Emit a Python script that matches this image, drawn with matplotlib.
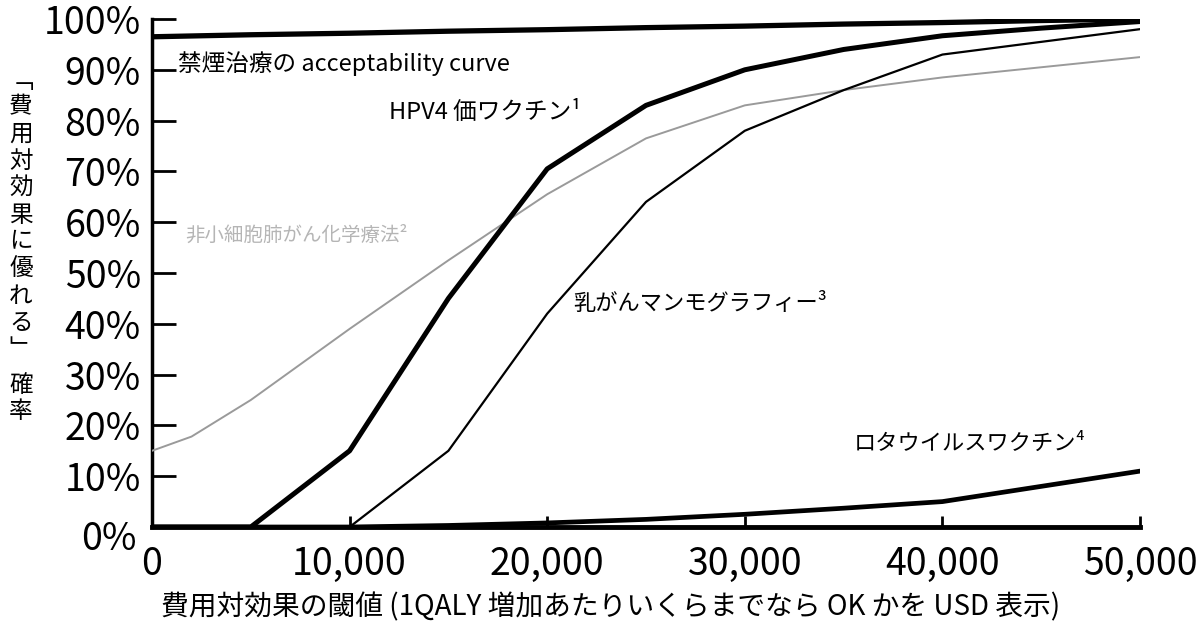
import matplotlib
matplotlib.use("Agg")
import matplotlib.pyplot as plt
from matplotlib.ticker import FuncFormatter
from matplotlib.transforms import ScaledTranslation

plt.rcParams['font.family'] = ['Noto Sans CJK JP', 'DejaVu Sans']

# ---- data ----
thresholds = [0, 5000, 10000, 15000, 20000, 25000, 30000, 35000, 40000, 45000, 50000]
smoking   = [96.5, 96.9, 97.2, 97.6, 97.9, 98.3, 98.6, 99.0, 99.3, 99.7, 100.0]
hpv4      = [0.0, 0.0, 15.0, 45.0, 70.5, 83.0, 90.0, 94.0, 96.7, 98.2, 99.5]
mammo     = [0.0, 0.0, 0.0, 15.0, 42.0, 64.0, 78.0, 86.0, 93.0, 95.5, 98.0]
nsclc_x   = [0, 2000, 5000, 10000, 15000, 20000, 25000, 30000, 35000, 40000, 45000, 50000]
nsclc     = [15.0, 17.8, 25.0, 39.0, 52.5, 65.5, 76.5, 83.0, 86.0, 88.5, 90.5, 92.5]
rota      = [0.0, 0.0, 0.0, 0.3, 0.8, 1.5, 2.5, 3.7, 5.0, 8.0, 11.0]

xticks = [0, 10000, 20000, 30000, 40000, 50000]
yticks = [0, 10, 20, 30, 40, 50, 60, 70, 80, 90, 100]

xlabel = "費用対効果の閾値 (1QALY 増加あたりいくらまでなら OK かを USD 表示)"
ylabel_chars = ["\ufe41", "費", "用", "対", "効", "果", "に", "優", "れ", "る", "\ufe42", "確", "率"]
ylabel_rows  = [81, 107, 134, 161, 188, 215, 242, 269, 296, 323, 350, 385, 411]

fig = plt.figure(figsize=(12.03, 6.28), dpi=100)
ax = fig.add_axes([152/1203, (628-527)/628, (1140-152)/1203, (527-19)/628])

ax.plot(thresholds, smoking, color='black', lw=3.8, solid_capstyle='round', zorder=5)
ax.plot(thresholds, hpv4, color='black', lw=3.6, zorder=5)
ax.plot(thresholds, mammo, color='black', lw=1.6, zorder=5)
ax.plot(nsclc_x, nsclc, color='#9a9a9a', lw=1.4, zorder=4)
ax.plot(thresholds, rota, color='black', lw=3.4, zorder=5)

ax.set_xlim(0, 50000)
ax.set_ylim(0, 100)
ax.set_xticks(xticks)
ax.set_yticks(yticks)
ax.xaxis.set_major_formatter(FuncFormatter(lambda v, p: f"{int(v):,}"))
ax.yaxis.set_major_formatter(FuncFormatter(lambda v, p: f"{int(v)}%"))

for s in ['top', 'right']:
    ax.spines[s].set_visible(False)
ax.spines['left'].set_linewidth(2.5)
ax.spines['bottom'].set_linewidth(3.5)
ax.tick_params(axis='y', direction='in', length=17, width=2, labelsize=27, pad=8)
ax.tick_params(axis='x', direction='in', length=8, width=2, labelsize=27, pad=13)

fig.canvas.draw()
ylabs = ax.get_yticklabels()
ylabs[0].set_transform(ylabs[0].get_transform() + ScaledTranslation(-4/100, -8/100, fig.dpi_scale_trans))

ax.set_xlabel(xlabel, fontsize=20, labelpad=6)
ax.xaxis.label.set_x((611 - 152) / 988)

# vertical y label, one character per row (vertical-form brackets)
for ch, row in zip(ylabel_chars, ylabel_rows):
    fig.text(21/1203, 1 - row/628, ch, fontsize=17, ha='center', va='center')

# annotations
ax.text(1300, 91.2, "禁煙治療の acceptability curve", fontsize=17, va='center', ha='left')
ax.text(12000, 81.5, "HPV4 価ワクチン¹", fontsize=17, va='center', ha='left')
ax.text(1700, 57.5, "非小細胞肺がん化学療法²", fontsize=14, va='center', ha='left',
        color='#b5b5b5')
ax.text(21300, 44.0, "乳がんマンモグラフィー³", fontsize=16, va='center', ha='left')
ax.text(35500, 16.5, "ロタウイルスワクチン⁴", fontsize=16, va='center', ha='left')

fig.savefig("out.png", dpi=100)
